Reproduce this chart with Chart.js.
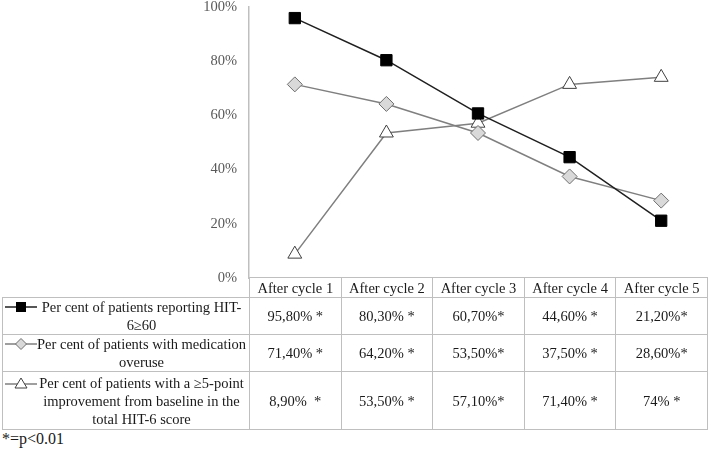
<!DOCTYPE html>
<html>
<head>
<meta charset="utf-8">
<script src="https://cdn.jsdelivr.net/npm/chart.js@4.4.1/dist/chart.umd.min.js"></script>
<style>
  body { margin: 0; background: #fff; font-family: "Liberation Serif", "Times New Roman", serif; }
  #wrap { position: relative; width: 716px; height: 452px; overflow: hidden; }
  #chart { position: absolute; left: 0; top: -14px; }
  #tbl { position: absolute; left: 2px; top: 277px; border-collapse: collapse; table-layout: fixed;
         font-size: 14.5px; color: #1a1a1a; }
  #tbl td, #tbl th { border: 1px solid #bfbfbf; padding: 0; text-align: center; font-weight: normal;
                     line-height: 18px; overflow: hidden; }
  #tbl th.blank { border-top: none; border-left: none; }
  #tbl td.name { padding: 0 3px 0 2px; }
  .key { display: flex; align-items: flex-start; }
  .key svg { flex: none; margin-top: 3px; }
  .key span { flex: 1; text-align: center; }
  #note { position: absolute; left: 2px; top: 430px; font-size: 16px; color: #1a1a1a; }
</style>
</head>
<body>
<div id="wrap">
  <canvas id="chart" width="716" height="313"></canvas>
  <table id="tbl"></table>
  <div id="note">*=p&lt;0.01</div>
</div>
<script>
/* Data */
var cycles = ['After cycle 1', 'After cycle 2', 'After cycle 3', 'After cycle 4', 'After cycle 5'];
var seriesNames = [
    'Per cent of patients reporting HIT-6\u226560',
    'Per cent of patients with medication overuse',
    'Per cent of patients with a \u22655-point improvement from baseline in the total HIT-6 score'
];
var hitHigh = [95.8, 80.3, 60.7, 44.6, 21.2];
var overuse = [71.4, 64.2, 53.5, 37.5, 28.6];
var improved = [8.9, 53.5, 57.1, 71.4, 74];
var hitHighLabels = ['95,80% *', '80,30% *', '60,70%*', '44,60% *', '21,20%*'];
var overuseLabels = ['71,40% *', '64,20% *', '53,50%*', '37,50% *', '28,60%*'];
var improvedLabels = ['8,90%  *', '53,50% *', '57,10%*', '71,40% *', '74% *'];
var yTicks = [0, 20, 40, 60, 80, 100];

/* legend keys for the table */
var icons = [
    '<svg width="32" height="12"><line x1="0" y1="6" x2="32" y2="6" stroke="#1f1f1f" stroke-width="1.5"/><rect x="11" y="1" width="10" height="10" fill="#000"/></svg>',
    '<svg width="32" height="12"><line x1="0" y1="6" x2="32" y2="6" stroke="#7f7f7f" stroke-width="1.5"/><polygon points="16,0.5 21.5,6 16,11.5 10.5,6" fill="#d9d9d9" stroke="#6f6f6f"/></svg>',
    '<svg width="32" height="12"><line x1="0" y1="7" x2="32" y2="7" stroke="#7f7f7f" stroke-width="1.5"/><polygon points="16,1 22,11 10,11" fill="#fff" stroke="#404040"/></svg>'
];

var ctx = document.getElementById('chart').getContext('2d');
var chart = new Chart(ctx, {
    type: 'line',
    data: {
        labels: cycles,
        datasets: [{
            label: seriesNames[0],
            data: hitHigh,
            borderColor: '#1f1f1f',
            backgroundColor: '#000',
            pointBorderColor: '#000',
            borderWidth: 1.5,
            pointStyle: 'rect',
            pointRadius: 8,
            pointBorderWidth: 1
        }, {
            label: seriesNames[1],
            data: overuse,
            borderColor: '#7f7f7f',
            backgroundColor: '#d9d9d9',
            pointBorderColor: '#6f6f6f',
            borderWidth: 1.5,
            pointStyle: 'rectRot',
            pointRadius: 7.5,
            pointBorderWidth: 1
        }, {
            label: seriesNames[2],
            data: improved,
            borderColor: '#7f7f7f',
            backgroundColor: '#fff',
            pointBorderColor: '#404040',
            borderWidth: 1.5,
            pointStyle: 'triangle',
            pointRadius: 8,
            pointBorderWidth: 1
        }]
    },
    options: {
        responsive: false,
        animation: false,
        clip: false,
        layout: { padding: { left: 0, right: 2, top: 0, bottom: 3 } },
        plugins: { legend: { display: false }, tooltip: { enabled: false } },
        scales: {
            x: { type: 'category', offset: true, display: false },
            y: {
                min: 0, max: 100,
                afterFit: function (scale) { scale.width = 249; },
                afterBuildTicks: function (scale) {
                    scale.ticks = yTicks.map(function (v) { return { value: v }; });
                },
                grid: { display: false, drawTicks: false },
                border: { display: true, color: '#bfbfbf', width: 1.5 },
                ticks: {
                    padding: 12,
                    color: '#595959',
                    font: { family: '"Liberation Serif", "Times New Roman", serif', size: 14.5 },
                    callback: function (v) { return v + '%'; }
                }
            }
        }
    }
});

/* table columns follow the x scale */
var xs = chart.scales.x;
var step = xs.getPixelForValue(1) - xs.getPixelForValue(0);
var html = '<colgroup><col style="width:' + (chart.chartArea.left - 2) + 'px">';
cycles.forEach(function (c, i) {
    html += '<col style="width:' + step + 'px">';
});
html += '</colgroup>';
html += '<tr style="height:20px"><th class="blank"></th>' + cycles.map(function (c) { return '<th>' + c + '</th>'; }).join('') + '</tr>';
var rows = [hitHighLabels, overuseLabels, improvedLabels];
var heights = [36, 37, 58];
rows.forEach(function (vals, k) {
    html += '<tr style="height:' + heights[k] + 'px"><td class="name"><div class="key">' + icons[k] +
        '<span>' + seriesNames[k] + '</span></div></td>' +
        vals.map(function (v) { return '<td style="white-space:pre">' + v + '</td>'; }).join('') + '</tr>';
});
var tbl = document.getElementById('tbl');
tbl.innerHTML = html;
tbl.style.width = (chart.chartArea.right - 2) + 'px';
</script>
</body>
</html>
